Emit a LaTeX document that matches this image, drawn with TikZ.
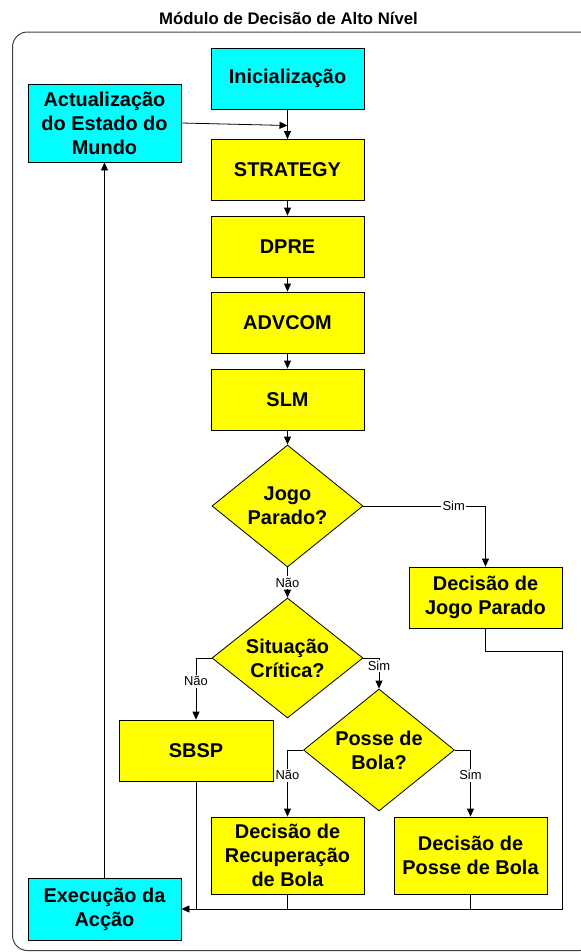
\documentclass[tikz,border=0pt]{standalone}
\usepackage{fontspec}
\setmainfont{Liberation Sans}
\usetikzlibrary{
  shapes.geometric,
  arrows.meta
}
\definecolor{aqua}{RGB}{0,255,255}
\definecolor{lemon}{RGB}{255,255,0}
\tikzset{
  box/.style={draw=black,line width=0.8bp,minimum width=153bp,minimum height=61bp,
    inner sep=0pt,align=center,font=\fontsize{20}{24}\selectfont\bfseries},
  cbox/.style={box,fill=aqua},
  ybox/.style={box,fill=lemon},
  decide/.style={box,shape=diamond,fill=lemon,aspect=1.24,
    minimum width=151bp,minimum height=122bp},
  lbl/.style={fill=white,inner sep=1.5bp,font=\fontsize{13}{15}\selectfont},
  link/.style={line width=0.8bp},
  arr/.style={link,-{Triangle[length=8bp,width=7bp]}},
  frame/.style={draw=black!75,line width=1bp,rounded corners=15bp}
}
\begin{document}
\begin{tikzpicture}[x=1bp,y=-1bp]
\useasboundingbox (0,0) rectangle (581,952);

\node[font=\fontsize{16.8}{20}\selectfont\bfseries] (title) at (288.5,18) {Módulo de Decisão de Alto Nível};
\draw[frame] (12.5,32) rectangle (595,950.5);

\node[cbox] (init) at (287.5,78.5) {Inicialização};
\node[cbox,minimum height=78bp] (upd) at (104.5,123) {Actualização\\do Estado do\\Mundo};
\node[ybox] (strat) at (287.5,170) {STRATEGY};
\node[ybox] (dpre) at (287.5,246.5) {DPRE};
\node[ybox] (advcom) at (287.5,322.5) {ADVCOM};
\node[ybox] (slm) at (287.5,399.5) {SLM};
\node[decide] (jogo) at (287.5,506) {Jogo\\Parado?};
\node[ybox] (djp) at (485.5,597.5) {Decisão de\\Jogo Parado};
\node[decide,minimum height=120bp] (sit) at (287.5,658) {Situação\\Crítica?};
\node[ybox,minimum width=154bp] (sbsp) at (196,750.5) {SBSP};
\node[decide] (posse) at (379,750) {Posse de\\Bola?};
\node[ybox,minimum height=77bp] (drb) at (287.5,855.5) {Decisão de\\Recuperação\\de Bola};
\node[ybox,minimum height=77bp] (dpb) at (470.5,855.5) {Decisão de\\Posse de Bola};
\node[cbox,minimum height=62bp] (exec) at (104.5,909) {Execução da\\Acção};

\coordinate (join) at (287.5,125.5);
\coordinate (turn) at (562,651);
\coordinate (bus) at (562,909);

\draw[arr] (init) -- (strat);
\draw[arr] (upd.east) -- (join);
\draw[arr] (strat) -- (dpre);
\draw[arr] (dpre) -- (advcom);
\draw[arr] (advcom) -- (slm);
\draw[arr] (slm) -- (jogo);
\draw[arr] (jogo.east) -| node[lbl,pos=0.37] {Sim} (djp.north);
\draw[arr] (jogo.south) -- node[lbl] {Não} (sit.north);
\draw[arr] (sit.west) -| node[lbl,pos=0.69] {Não} (sbsp.north);
\draw[arr] (sit.east) -| node[lbl,pos=0.63] {Sim} (posse.north);
\draw[arr] (posse.west) -| node[lbl,pos=0.69] {Não} (drb.north);
\draw[arr] (posse.east) -| node[lbl,pos=0.69] {Sim} (dpb.north);
\draw[arr] (djp.south) |- (turn) -- (bus) -- (exec.east);
\draw[link] (sbsp.south) -- (sbsp.south |- bus);
\draw[link] (drb.south) -- (drb.south |- bus);
\draw[link] (dpb.south) -- (dpb.south |- bus);
\draw[arr] (exec.north) -- (upd.south);
\end{tikzpicture}
\end{document}
